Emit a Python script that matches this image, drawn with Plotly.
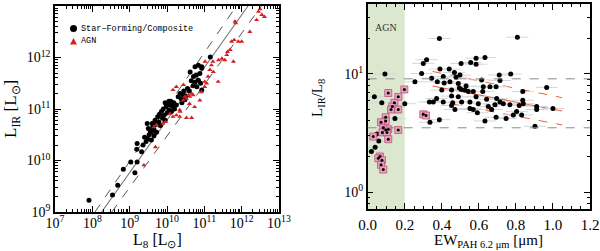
import plotly.graph_objects as go

# ---------------- Left panel data (log10 values) ----------------
sf_logL8 = [7.91, 8.54, 8.68, 8.83, 9.03, 9.20, 9.14, 9.20, 9.19, 9.32, 9.36, 9.44, 9.40, 9.48,
            9.52, 9.55, 9.50, 9.58, 9.62, 9.60, 9.65, 9.68, 9.70, 9.72, 9.75, 9.78, 9.80, 9.82,
            9.85, 9.88, 9.90, 9.92, 9.95, 9.98, 10.00, 10.02, 10.05, 10.08, 10.10, 10.12, 10.15,
            10.18, 10.20, 10.05, 9.95, 10.25, 10.30, 10.35, 10.38, 10.42, 10.45, 10.50, 10.55,
            10.60, 10.62, 10.71, 10.75, 10.80, 10.84, 10.84, 10.88, 10.90, 10.93, 10.93, 10.70,
            10.65, 10.78, 11.16, 9.58, 9.65, 9.47, 10.40, 10.48, 10.75, 10.93]
sf_logLIR = [9.23, 9.33, 9.52, 9.83, 9.97, 9.97, 9.76, 10.33, 10.22, 10.17, 10.30, 10.37, 10.45, 10.42,
             10.50, 10.58, 10.62, 10.55, 10.65, 10.72, 10.60, 10.78, 10.70, 10.55, 10.85, 10.75, 10.90, 10.68,
             10.95, 10.82, 11.00, 10.88, 10.78, 11.05, 10.92, 11.10, 10.98, 11.08, 11.15, 10.95, 11.05,
             11.12, 11.00, 11.15, 11.12, 11.08, 11.24, 11.30, 11.20, 11.28, 11.35, 11.25, 11.40,
             11.35, 11.72, 11.63, 11.52, 11.43, 11.85, 11.56, 11.69, 11.50, 11.79, 11.37, 11.45,
             11.55, 11.66, 12.01, 10.40, 10.48, 10.72, 11.12, 11.18, 11.82, 11.82]

agn_logL8 = [9.38, 9.69, 9.65, 9.72, 9.88, 9.96, 10.08, 10.16, 10.25, 10.34, 10.43, 10.48, 10.52,
             10.57, 10.61, 10.66, 10.70, 10.16, 10.25, 10.34, 10.52, 10.66, 10.74, 10.88, 10.92,
             11.01, 11.06, 11.10, 11.15, 11.19, 11.23, 11.02, 11.24, 11.37, 11.01, 11.38, 11.47,
             11.55, 11.60, 11.62, 11.69, 11.73, 11.80, 11.91, 12.00, 11.78, 11.82, 11.84, 12.22,
             12.40, 12.45, 12.49, 12.54, 12.61, 10.44, 10.35, 10.60]
agn_logLIR = [9.91, 10.26, 10.65, 10.69, 10.72, 10.75, 10.91, 10.85, 10.88, 10.98, 11.17, 11.24, 11.20,
              11.27, 11.24, 11.30, 11.27, 11.37, 11.43, 10.85, 10.83, 10.83, 11.04, 11.17, 11.33,
              11.43, 11.50, 11.63, 11.76, 11.85, 11.92, 11.92, 11.72, 11.53, 11.53, 11.95, 11.98,
              11.95, 12.05, 12.11, 12.15, 12.31, 12.34, 12.31, 12.31, 11.92, 12.70, 12.67, 12.50,
              12.73, 12.89, 12.94, 12.83, 12.79, 11.47, 10.95, 11.10]

fit_logLIR = [9.0, 13.0]
fit_logL8 = [8.25, 12.17]
upper_logL8 = [8.07, 11.86]
lower_logL8 = [8.52, 12.53]

left_x_ticks = [7, 8, 9, 10, 11, 12, 13]
left_y_ticks = [9, 10, 11, 12, 13]

# ---------------- Right panel data ----------------
sf_ew = [0.387, 0.808, 0.291, 0.39, 0.44, 0.504, 0.556, 0.585, 0.585, 0.633, 0.468, 0.498, 0.477,
         0.408, 0.376, 0.444, 0.489, 0.531, 0.525, 0.495, 0.505, 0.453, 0.40, 0.413, 0.345, 0.71,
         0.772, 0.714, 0.615, 0.624, 0.621, 0.66, 0.693, 0.642, 0.696, 0.714, 0.732, 0.768, 0.818,
         0.837, 0.837, 0.84, 0.966, 0.912, 0.912, 1.0, 0.903, 0.831, 0.804, 0.786, 0.747, 0.693,
         0.669, 0.633, 0.592, 0.57, 0.597, 0.552, 0.552, 0.507, 0.489, 0.453, 0.459, 0.453, 0.471,
         0.408, 0.372, 0.354, 0.333, 0.336, 0.387, 0.543, 0.57, 0.585, 0.651, 0.687, 0.20, 0.093,
         0.036, 0.076, 0.147, 0.30, 0.318, 0.255, 0.04, 0.05, 0.06, 0.02]
sf_ratio = [20.0, 20.5, 10.1, 11.0, 11.0, 12.3, 12.5, 13.6, 12.1, 13.8, 10.3, 9.8, 9.4,
            9.5, 8.6, 8.6, 8.3, 7.9, 7.3, 7.6, 7.4, 7.3, 7.3, 8.4, 9.2, 9.8,
            10.0, 8.8, 8.9, 7.8, 7.1, 7.8, 7.8, 6.1, 6.2, 5.8, 5.6, 5.5, 5.4,
            7.1, 6.0, 5.6, 7.7, 5.3, 5.0, 5.1, 3.6, 4.5, 4.8, 4.5, 4.2, 4.3,
            5.0, 4.0, 4.7, 5.0, 5.6, 5.8, 5.1, 5.8, 6.4, 6.5, 5.7, 5.4, 5.0,
            5.8, 6.2, 5.8, 5.8, 3.9, 4.1, 7.1, 7.1, 6.4, 5.3, 5.5, 5.6, 10.0,
            6.4, 5.7, 4.2, 12.3, 13.2, 8.6, 2.4, 3.1, 2.7, 2.2]
sf_ew_err = [0.06] * len(sf_ew)

agn_ew = [0.111, 0.165, 0.198, 0.144, 0.133, 0.126, 0.165, 0.097, 0.097, 0.072, 0.084, 0.097,
          0.111, 0.165, 0.079, 0.104, 0.111, 0.03, 0.066, 0.057, 0.077, 0.072, 0.084, 0.30, 0.315]
agn_ratio = [6.9, 6.4, 7.4, 5.7, 5.3, 5.0, 5.0, 4.3, 4.0, 3.9, 3.5, 3.35,
             3.4, 3.35, 3.2, 3.2, 2.8, 2.95, 2.0, 1.93, 1.86, 1.7, 1.55, 4.55, 4.45]

fit_ew = [0.35, 1.05]
fit_ratio = [7.9, 4.85]
fit_ratio_hi = [10.5, 6.3]
fit_ratio_lo = [6.0, 3.7]
ref_ratio = [9.1, 3.5]
right_y_ticks = [0, 1]

SERIF = "Liberation Serif"
ORANGE = "#e8643a"

fig = go.Figure()

# left panel lines
fig.add_trace(go.Scatter(x=[10**v for v in fit_logL8], y=[10**v for v in fit_logLIR], mode="lines",
                         line=dict(color="#777777", width=1.1), xaxis="x", yaxis="y", showlegend=False))
for arr in (upper_logL8, lower_logL8):
    fig.add_trace(go.Scatter(x=[10**v for v in arr], y=[10**v for v in fit_logLIR], mode="lines",
                             line=dict(color="#555555", width=1, dash="dash"), xaxis="x", yaxis="y",
                             showlegend=False))
fig.add_trace(go.Scatter(x=[10**v for v in sf_logL8], y=[10**v for v in sf_logLIR], mode="markers",
                         marker=dict(color="black", size=5), xaxis="x", yaxis="y", showlegend=False))
fig.add_trace(go.Scatter(x=[10**v for v in agn_logL8], y=[10**v for v in agn_logLIR], mode="markers",
                         marker=dict(color="#d42020", size=4.5, symbol="triangle-up"), xaxis="x", yaxis="y",
                         showlegend=False))

# right panel
fig.add_trace(go.Scatter(x=fit_ew, y=fit_ratio, mode="lines", line=dict(color=ORANGE, width=1.1),
                         xaxis="x2", yaxis="y2", showlegend=False))
for arr in (fit_ratio_hi, fit_ratio_lo):
    fig.add_trace(go.Scatter(x=fit_ew, y=arr, mode="lines", line=dict(color=ORANGE, width=1, dash="dash"),
                             xaxis="x2", yaxis="y2", showlegend=False))
fig.add_trace(go.Scatter(x=sf_ew, y=sf_ratio, mode="markers",
                         marker=dict(color="black", size=5),
                         error_x=dict(type="data", array=sf_ew_err, color="#d4d7dd", thickness=1, width=0),
                         xaxis="x2", yaxis="y2", showlegend=False))
fig.add_trace(go.Scatter(x=agn_ew, y=agn_ratio, mode="markers",
                         marker=dict(color="#e6a3bd", size=7, symbol="square",
                                     line=dict(color="#c0507a", width=0.8)),
                         xaxis="x2", yaxis="y2", showlegend=False))
fig.add_trace(go.Scatter(x=agn_ew, y=agn_ratio, mode="markers",
                         marker=dict(color="black", size=3),
                         xaxis="x2", yaxis="y2", showlegend=False))

axis_common = dict(showline=True, linecolor="black", linewidth=1.5, mirror="allticks", ticks="inside",
                   ticklen=6, tickwidth=1, tickcolor="black", showgrid=False, zeroline=False,
                   automargin=False)
minor_log = dict(ticks="inside", ticklen=3, tickcolor="black", dtick="D1", showgrid=False)


def pow_text(vals):
    return [f"10<sup>{v}</sup>" for v in vals]


tf = dict(family=SERIF, size=14, color="black")

fig.update_layout(
    template="plotly_white",
    width=600, height=251, margin=dict(l=0, r=0, t=0, b=0, autoexpand=False),
    paper_bgcolor="white", plot_bgcolor="white",
    xaxis=dict(domain=[55/600, 279/600], type="log", range=[7, 13],
               tickvals=[10**v for v in left_x_ticks], ticktext=pow_text(left_x_ticks),
               ticklabelstandoff=-3, tickfont=tf,
               anchor="y", minor=minor_log, **axis_common),
    yaxis=dict(domain=[1-212/251, 1-6/251], type="log", range=[9, 13],
               tickvals=[10**v for v in left_y_ticks], ticktext=pow_text(left_y_ticks),
               tickfont=tf, anchor="x", minor=minor_log, **axis_common),
    xaxis2=dict(domain=[367.7/600, 590/600], range=[0, 1.2], dtick=0.2, tickformat=".1f", anchor="y2",
                ticklabelstandoff=1, tickfont=dict(family=SERIF, size=15, color="black"),
                minor=dict(ticks="inside", ticklen=3, tickcolor="black", dtick=0.05, showgrid=False),
                **axis_common),
    yaxis2=dict(domain=[1-209/251, 1-4/251], type="log", range=[-0.144, 1.593],
                tickvals=[10**v for v in right_y_ticks], ticktext=pow_text(right_y_ticks),
                tickfont=tf, anchor="x2", minor=minor_log, **axis_common),
)

shapes = [
    dict(type="rect", xref="x2", yref="y2 domain", x0=0, x1=0.2, y0=0, y1=1,
         fillcolor="#dbe8cf", line=dict(width=0), layer="below"),
]
for r in ref_ratio:
    shapes.append(dict(type="line", xref="x2 domain", yref="y2", x0=0, x1=1, y0=r, y1=r,
                       line=dict(color="#8a8a8a", width=1, dash="dash")))
# legend markers (paper coordinates)
cx, cy = 73.5/600, 1-28.5/251
shapes.append(dict(type="circle", xref="paper", yref="paper", x0=cx-3.5/600, x1=cx+3.5/600,
                   y0=cy-3.5/251, y1=cy+3.5/251, fillcolor="black", line=dict(width=0)))
tx, ty = 73.5/600, 1-41.5/251
shapes.append(dict(type="path", xref="paper", yref="paper",
                   path=f"M {tx-3.5/600} {ty-3/251} L {tx+3.5/600} {ty-3/251} L {tx} {ty+3.5/251} Z",
                   fillcolor="#d42020", line=dict(width=0)))
fig.update_layout(shapes=shapes)

ann = [
    dict(text="Star\u2212Forming/Composite", x=79/600, y=1-28.5/251, xref="paper", yref="paper",
         xanchor="left", yanchor="middle", showarrow=False,
         font=dict(family="Liberation Mono", size=8.5, color="black")),
    dict(text="AGN", x=79/600, y=1-41.5/251, xref="paper", yref="paper",
         xanchor="left", yanchor="middle", showarrow=False,
         font=dict(family="Liberation Mono", size=8.5, color="black")),
    dict(text="AGN", x=0.1, y=1.39, xref="x2", yref="y2", showarrow=False, xanchor="center",
         font=dict(family=SERIF, size=10, color="#333333")),
    dict(text="L<sub>IR</sub> [L<sub>\u2299</sub>]", x=12/600, y=1-109/251, xref="paper", yref="paper",
         xanchor="center", yanchor="middle",
         textangle=-90, showarrow=False, font=dict(family=SERIF, size=17, color="black")),
    dict(text="L<sub>8</sub> [L<sub>\u2299</sub>]", x=158/600, y=0.0, xref="paper", yref="paper",
         xanchor="center", yanchor="bottom", borderpad=0,
         showarrow=False, font=dict(family=SERIF, size=16, color="black")),
    dict(text="L<sub>IR</sub>/L<sub>8</sub>", x=318/600, y=1-98/251, xref="paper", yref="paper",
         xanchor="center", yanchor="middle",
         textangle=-90, showarrow=False, font=dict(family=SERIF, size=15, color="black")),
    dict(text="EW<sub>PAH 6.2 \u03bcm</sub> [\u03bcm]", x=489/600, y=0.0, xref="paper", yref="paper",
         xanchor="center", yanchor="bottom", borderpad=0,
         showarrow=False, font=dict(family=SERIF, size=15, color="black")),
]
fig.update_layout(annotations=ann)

fig.write_html("out.html", config={"displayModeBar": False},
               post_script="document.body.style.margin='0';document.body.style.padding='0';")
